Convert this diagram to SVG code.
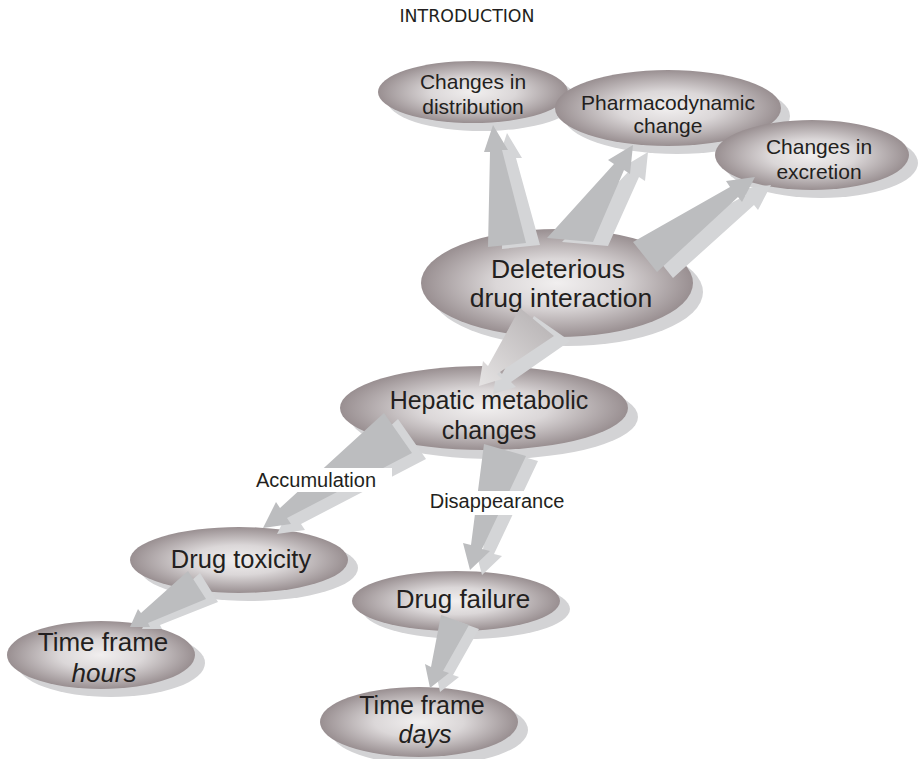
<svg xmlns="http://www.w3.org/2000/svg" width="923" height="759" viewBox="0 0 923 759">
<defs>
<radialGradient id="eg" cx="0.5" cy="0.5" r="0.5">
<stop offset="0" stop-color="#f1efef"/>
<stop offset="0.45" stop-color="#dbd7d8"/>
<stop offset="1" stop-color="#998f91"/>
</radialGradient>
<linearGradient id="ag" x1="537" y1="322" x2="478" y2="388" gradientUnits="userSpaceOnUse">
<stop offset="0" stop-color="#bdb9ba"/>
<stop offset="1" stop-color="#e6e4e4"/>
</linearGradient>
<style>
.sh{fill:#d3d3d5}
.el{fill:url(#eg)}
.t{font-family:"Liberation Sans",Arial,sans-serif;fill:#231f20;text-anchor:middle}
.s21{font-size:21px}
.s20{font-size:20px}
.s26{font-size:26px}
.it{font-style:italic}
.am{fill:#bcbdbf}
.as{fill:#d4d5d7}
.lb{fill:#ffffff}
</style>
</defs>
<rect width="923" height="759" fill="#ffffff"/>
<text x="467" y="22" font-family="'DejaVu Sans Condensed','Liberation Sans Narrow',sans-serif" font-size="17" fill="#231f20" text-anchor="middle" textLength="135" lengthAdjust="spacingAndGlyphs">INTRODUCTION</text>

<g id="node-distribution">
<ellipse class="sh" cx="482" cy="100" rx="95" ry="31"/>
<ellipse class="el" cx="473" cy="92" rx="95" ry="31"/>
<text class="t s21" x="473" y="89">Changes in</text>
<text class="t s21" x="473" y="114">distribution</text>
</g>
<g id="node-pharmacodynamic">
<ellipse class="sh" cx="677" cy="116" rx="113" ry="38"/>
<ellipse class="el" cx="668" cy="108" rx="113" ry="38"/>
<text class="t s21" x="668" y="110">Pharmacodynamic</text>
<text class="t s21" x="668" y="133">change</text>
</g>
<g id="node-excretion">
<ellipse class="sh" cx="821" cy="163" rx="97" ry="35"/>
<ellipse class="el" cx="812" cy="155" rx="97" ry="35"/>
<text class="t s21" x="819" y="154">Changes in</text>
<text class="t s21" x="819" y="179">excretion</text>
</g>
<g id="node-deleterious">
<ellipse class="sh" cx="567" cy="292" rx="136" ry="54"/>
<ellipse class="el" cx="557" cy="283" rx="136" ry="54"/>
<text class="t" font-size="26.5" x="558" y="278">Deleterious</text>
<text class="t" font-size="26.5" x="561" y="307">drug interaction</text>
</g>
<g id="node-hepatic">
<ellipse class="sh" cx="494" cy="417" rx="144" ry="42"/>
<ellipse class="el" cx="484" cy="408" rx="144" ry="42"/>
<text class="t" font-size="25" x="489" y="409">Hepatic metabolic</text>
<text class="t" font-size="25" x="489" y="439">changes</text>
</g>
<g id="node-toxicity">
<ellipse class="sh" cx="249" cy="568" rx="109" ry="33"/>
<ellipse class="el" cx="239" cy="560" rx="109" ry="33"/>
<text class="t" font-size="25.5" x="241" y="568">Drug toxicity</text>
</g>
<g id="node-hours">
<ellipse class="sh" cx="111" cy="663" rx="94" ry="34"/>
<ellipse class="el" cx="101" cy="655" rx="94" ry="34"/>
<text class="t s26" x="103" y="651">Time frame</text>
<text class="t s26 it" x="104" y="682">hours</text>
</g>
<g id="node-failure">
<ellipse class="sh" cx="466" cy="609" rx="104" ry="30"/>
<ellipse class="el" cx="456" cy="601" rx="104" ry="30"/>
<text class="t s26" x="463" y="608">Drug failure</text>
</g>
<g id="node-days">
<ellipse class="sh" cx="429" cy="730" rx="99" ry="35"/>
<ellipse class="el" cx="419" cy="722" rx="99" ry="35"/>
<text class="t" font-size="25" x="422" y="714">Time frame</text>
<text class="t it" font-size="25" x="425" y="743">days</text>
</g>

<g id="connectors">
<polygon class="as" points="502,249 504,160 498,160 507,133 522,158 516,158 540,245"/>
<polygon class="am" points="488,247 490,152 484,152 493,125 508,150 502,150 526,243"/>
<polygon class="as" points="562,242 629,171 623,167 648,152 645,181 639,177 608,246"/>
<polygon class="am" points="547,238 614,164 608,160 633,145 630,174 624,170 593,242"/>
<polygon class="as" points="649,248 746,195 742,189 771,185 758,210 754,205 673,278"/>
<polygon class="am" points="633,242 730,187 726,181 755,177 742,202 738,197 657,272"/>
<polygon class="as" points="534,316 502,374 497,369 493,394 516,387 511,382 570,341"/>
<polygon fill="url(#ag)" points="520,308 488,366 483,361 479,386 502,379 497,374 554,336"/>
<polygon class="as" points="398,419 294,514 290,508 277,534 305,530 301,524 426,459"/>
<polygon class="am" points="384,413 280,508 276,502 263,528 291,524 287,518 412,453"/>
<polygon class="as" points="496,449 483,550 475,548 482,575 502,556 494,554 538,461"/>
<polygon class="am" points="484,444 471,545 463,543 470,570 490,551 482,549 526,456"/>
<polygon class="as" points="200,573 153,615 150,611 142,629 162,629 160,625 218,602"/>
<polygon class="am" points="188,571 141,613 138,609 130,627 150,627 148,623 206,599"/>
<polygon class="as" points="451,619 441,671 435,668 440,692 459,677 453,675 479,629"/>
<polygon class="am" points="441,615 431,667 425,664 430,688 449,673 443,671 469,625"/>
</g>

<g id="label-accumulation">
<rect class="lb" x="250" y="468" width="142" height="24"/>
<text class="t s20" x="316" y="487">Accumulation</text>
</g>
<g id="label-disappearance">
<rect class="lb" x="422" y="491" width="152" height="24"/>
<text class="t s20" x="497" y="508">Disappearance</text>
</g>
</svg>
